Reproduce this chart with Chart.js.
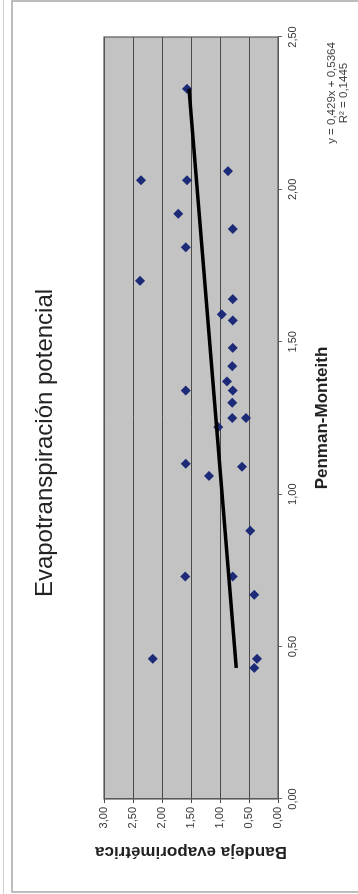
<!DOCTYPE html>
<html>
<head>
<meta charset="utf-8">
<script src="https://cdn.jsdelivr.net/npm/chart.js@4/dist/chart.umd.min.js"></script>
<style>
  html, body { margin: 0; padding: 0; background: #fff; }
  #page { position: relative; width: 358px; height: 894px; overflow: hidden; background: #fff; }
  /* the chart is laid out landscape and turned a quarter turn counter-clockwise */
  #wrap { position: absolute; left: 0; top: 0; width: 894px; height: 358px;
          transform-origin: 0 0; transform: translateY(894px) rotate(-90deg); }
</style>
</head>
<body>
<div id="page"><div id="wrap"><canvas id="c" width="894" height="358"></canvas></div></div>
<script>
// Penman-Monteith (mm/día) vs. bandeja evaporimétrica (mm/día)
const penman = [2.33, 2.03, 2.03, 2.06, 1.92, 1.87, 1.81, 1.70, 1.64, 1.59,
                1.57, 1.48, 1.42, 1.37, 1.34, 1.34, 1.30, 1.25, 1.25, 1.22,
                1.10, 1.06, 1.09, 0.88, 0.73, 0.73, 0.67, 0.46, 0.46, 0.43];
const bandeja = [1.57, 2.36, 1.57, 0.86, 1.72, 0.78, 1.59, 2.38, 0.78, 0.97,
                 0.78, 0.78, 0.79, 0.88, 1.59, 0.78, 0.79, 0.79, 0.55, 1.03,
                 1.59, 1.19, 0.62, 0.48, 1.60, 0.78, 0.41, 2.16, 0.36, 0.41];

// linear trend as reported on the chart
const trendSlope = 0.429;
const trendIntercept = 0.5364;
const trendR2 = 0.1445;

const xTicks = [0, 0.5, 1.0, 1.5, 2.0, 2.5];
const yTicks = [0, 0.5, 1.0, 1.5, 2.0, 2.5, 3.0];

const chartTitle = 'Evapotranspiración potencial';

const fmt = v => v.toFixed(2).replace('.', ',');
const fmtN = (v, d) => v.toFixed(d).replace('.', ',');

const points = penman.map((x, i) => ({ x: x, y: bandeja[i] }));
const xMin = Math.min(...penman), xMax = Math.max(...penman);
const trend = [xMin, xMax].map(x => ({ x: x, y: trendSlope * x + trendIntercept }));

const FONT = '"Liberation Sans", Arial, sans-serif';

const framePlugin = {
  id: 'frame',
  beforeDraw(chart) {
    const { ctx, chartArea: a } = chart;
    ctx.save();
    ctx.fillStyle = '#ffffff';
    ctx.fillRect(0, 0, chart.width, chart.height);
    // outer frame
    ctx.strokeStyle = '#a8a8a8';
    ctx.lineWidth = 1.5;
    ctx.beginPath();
    ctx.moveTo(2, 360); ctx.lineTo(2, 12); ctx.lineTo(893, 12); ctx.lineTo(893, 360);
    ctx.stroke();
    ctx.strokeStyle = '#d0d0d0';
    ctx.lineWidth = 1;
    ctx.beginPath(); ctx.moveTo(0, 3.5); ctx.lineTo(894, 3.5); ctx.stroke();
    // plot area fill
    ctx.fillStyle = '#c3c3c3';
    ctx.fillRect(a.left, a.top, a.right - a.left, a.bottom - a.top);
    // title
    ctx.fillStyle = '#222';
    ctx.font = '24px ' + FONT;
    ctx.textAlign = 'center';
    ctx.textBaseline = 'middle';
    ctx.fillText(chartTitle, 451, 45);
    ctx.restore();
  },
  afterDatasetsDraw(chart) {
    const { ctx, chartArea: a } = chart;
    ctx.save();
    ctx.strokeStyle = '#5a5a5a';
    ctx.lineWidth = 1.2;
    ctx.strokeRect(a.left, a.top, a.right - a.left, a.bottom - a.top);
    // trend equation
    ctx.fillStyle = '#444';
    ctx.font = '11.5px ' + FONT;
    ctx.textAlign = 'center';
    ctx.textBaseline = 'middle';
    const cx = 801;
    ctx.fillText('y = ' + fmtN(trendSlope, 3) + 'x + ' + fmtN(trendIntercept, 4), cx, 332);
    ctx.fillText('R² = ' + fmtN(trendR2, 4), cx, 344);
    ctx.restore();
  }
};

new Chart(document.getElementById('c'), {
  type: 'scatter',
  data: {
    datasets: [
      {
        label: 'Datos',
        data: points,
        pointStyle: 'rectRot',
        pointRadius: 5,
        pointBackgroundColor: '#1c2a78',
        pointBorderColor: '#1c2a78',
        pointBorderWidth: 0,
        order: 2
      },
      {
        label: 'Tendencia',
        type: 'line',
        data: trend,
        borderColor: '#000000',
        borderWidth: 3.5,
        pointRadius: 0,
        fill: false,
        order: 1
      }
    ]
  },
  options: {
    responsive: false,
    animation: false,
    devicePixelRatio: 1,
    layout: { padding: { left: 0, right: 37, top: 104, bottom: 0 } },
    plugins: {
      legend: { display: false },
      tooltip: { enabled: false },
      title: { display: false }
    },
    scales: {
      x: {
        type: 'linear',
        min: 0, max: 2.5,
        afterBuildTicks: s => { s.ticks = xTicks.map(v => ({ value: v })); },
        afterFit: s => { s.height = 80; },
        ticks: {
          callback: v => fmt(v),
          color: '#333',
          font: { family: FONT, size: 11 },
          padding: 4,
          maxRotation: 0
        },
        grid: { display: true, drawOnChartArea: false, drawTicks: true, tickLength: 4, color: '#666' },
        border: { display: true, color: '#5a5a5a' },
        title: {
          display: true,
          text: 'Penman-Monteith',
          color: '#222',
          font: { family: FONT, size: 17, weight: 'bold', lineHeight: 1.2 },
          padding: { top: 0, bottom: 25.8 }
        }
      },
      y: {
        type: 'linear',
        min: 0, max: 3,
        afterBuildTicks: s => { s.ticks = yTicks.map(v => ({ value: v })); },
        afterFit: s => { s.width = 95; },
        ticks: {
          callback: v => fmt(v),
          color: '#333',
          font: { family: FONT, size: 11 },
          padding: 4
        },
        grid: { display: true, drawOnChartArea: true, drawTicks: true, tickLength: 4, color: '#4a4a4a', lineWidth: 1 },
        border: { display: true, color: '#5a5a5a' },
        title: {
          display: true,
          text: 'Bandeja evaporimétrica',
          color: '#222',
          font: { family: FONT, size: 17, weight: 'bold', lineHeight: 1.2 },
          padding: { top: 31.8, bottom: 0 }
        }
      }
    }
  },
  plugins: [framePlugin]
});
</script>
</body>
</html>
